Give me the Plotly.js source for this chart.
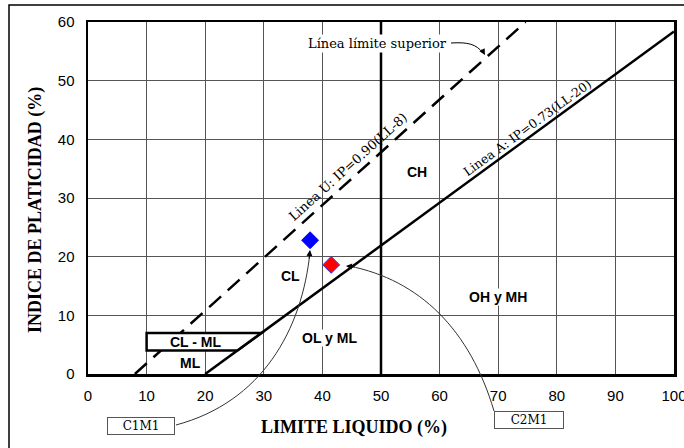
<!DOCTYPE html>
<html>
<head>
<meta charset="utf-8">
<script src="https://cdn.plot.ly/plotly-3.0.1.min.js"></script>
<style>html,body{margin:0;padding:0;background:#fff;}#chart{width:684px;height:448px;}</style>
</head>
<body>
<div id="chart"></div>
<script>
// Sample points
var sampleNames = ['C1M1', 'C2M1'];
var sampleLL = [37.9, 41.5];
var sampleIP = [22.8, 18.6];
var sampleColors = ['#0000ff', '#ff0000'];

// Reference lines of the plasticity chart
var aLineLL = [20, 100];        // Linea A: IP = 0.73(LL-20)
var aLineIP = [0, 58.4];
var uLineLL = [8, 74.67];       // Linea U: IP = 0.90(LL-8)
var uLineIP = [0, 60];
var divLL = [50, 50];           // LL = 50 divider
var divIP = [0, 60];
var clmlLL = [10, 10, 29.59, 25.48, 10];  // CL-ML band
var clmlIP = [4, 7, 7, 4, 4];

// Zone labels
var zoneNames = ['CL - ML', 'ML', 'CL', 'OL y ML', 'CH', 'OH y MH'];
var zoneLL = [18.5, 17.5, 34.6, 41.2, 56.1, 69.9];
var zoneIP = [5.5, 1.9, 16.7, 6.1, 34.4, 13.1];

var xTicks = [0, 10, 20, 30, 40, 50, 60, 70, 80, 90, 100];
var yTicks = [0, 10, 20, 30, 40, 50, 60];

var serif = 'DejaVu Serif';
var tnr = 'Liberation Serif';
var sans = 'Liberation Sans, Arial, sans-serif';

var traces = [
  {x: uLineLL, y: uLineIP, mode: 'lines', line: {color: '#000', width: 2.5, dash: '16px,9px'}, hoverinfo: 'skip'},
  {x: aLineLL, y: aLineIP, mode: 'lines', line: {color: '#000', width: 2.5}, hoverinfo: 'skip'},
  {x: divLL, y: divIP, mode: 'lines', line: {color: '#000', width: 2.5}, hoverinfo: 'skip'},
  {x: sampleLL, y: sampleIP, mode: 'markers', text: sampleNames,
   marker: {symbol: 'diamond', size: 13, color: sampleColors, line: {color: ['#0000ff', '#3333ff'], width: 1}}}
];

// paper conversion helpers for annotation callouts (pixel layout known from margins)
var L = 88, T = 22, W = 586, H = 352;
function px(v) { return (v - L) / W; }
function py(v) { return (T + H - v) / H; }

var shapes = [
  // CL-ML band (white fill, over lines)
  {type: 'path', xref: 'x', yref: 'y', layer: 'above',
   path: 'M' + clmlLL.map(function (v, i) { return v + ',' + clmlIP[i]; }).join(' L') + ' Z',
   fillcolor: '#fff', line: {color: '#000', width: 2.5}},
  // outer frame
  {type: 'rect', xref: 'paper', yref: 'paper', x0: px(9), x1: px(720), y0: py(480), y1: py(5),
   line: {color: '#000', width: 1.5}, fillcolor: 'rgba(0,0,0,0)', layer: 'below'},
  // curved callouts
  {type: 'path', xref: 'paper', yref: 'paper', layer: 'above', line: {color: '#333', width: 1},
   path: 'M' + px(176) + ',' + py(425) + ' C' + px(262) + ',' + py(402) + ' ' + px(302) + ',' + py(330) + ' ' + px(310) + ',' + py(252)},
  {type: 'path', xref: 'paper', yref: 'paper', layer: 'above', line: {color: '#333', width: 1},
   path: 'M' + px(494) + ',' + py(411) + ' C' + px(470) + ',' + py(330) + ' ' + px(420) + ',' + py(280) + ' ' + px(349) + ',' + py(266)},
  {type: 'path', xref: 'paper', yref: 'paper', layer: 'above', line: {color: '#000', width: 1},
   path: 'M' + px(451) + ',' + py(43) + ' C' + px(468) + ',' + py(42) + ' ' + px(476) + ',' + py(44) + ' ' + px(483) + ',' + py(53)}
];

var annotations = [];
zoneNames.forEach(function (n, i) {
  annotations.push({x: zoneLL[i], y: zoneIP[i], text: '<b>' + n + '</b>', showarrow: false,
    xanchor: 'center', yanchor: 'middle',
    font: {family: sans, size: 14, color: '#000'},
    bgcolor: (n === 'CL - ML' || n === 'ML') ? 'rgba(0,0,0,0)' : '#fff', borderpad: 0});
});
annotations.push(
  {xref: 'paper', yref: 'paper', x: px(377), y: py(43), xanchor: 'center', yanchor: 'middle',
   text: 'Línea límite superior', showarrow: false,
   font: {family: serif, size: 13, color: '#000'}, bgcolor: '#fff', borderpad: 1},
  {x: 44.4, y: 35.4, text: 'Linea U: IP=0.90(LL-8)', textangle: -42, showarrow: false,
   xanchor: 'center', yanchor: 'middle', font: {family: serif, size: 13, color: '#000'}},
  {x: 75.0, y: 42.0, text: 'Linea A: IP=0.73(LL-20)', textangle: -36, showarrow: false,
   xanchor: 'center', yanchor: 'middle', font: {family: serif, size: 12.5, color: '#000'}},
  // sample label boxes
  {xref: 'paper', yref: 'paper', x: px(140.5), y: py(425.5), xanchor: 'center', yanchor: 'middle',
   text: sampleNames[0], showarrow: false,
   font: {family: serif, size: 12, color: '#000'}, bgcolor: '#fff', bordercolor: '#555', borderwidth: 1, borderpad: 1, width: 64, height: 14},
  {xref: 'paper', yref: 'paper', x: px(529), y: py(419.5), xanchor: 'center', yanchor: 'middle',
   text: sampleNames[1], showarrow: false,
   font: {family: serif, size: 12, color: '#000'}, bgcolor: '#fff', bordercolor: '#555', borderwidth: 1, borderpad: 1, width: 66, height: 14},
  // arrowheads
  {xref: 'paper', yref: 'paper', x: px(310), y: py(250), ax: -1, ay: 10, text: '', showarrow: true,
   arrowhead: 2, arrowsize: 1.2, arrowwidth: 1, arrowcolor: '#000'},
  {xref: 'paper', yref: 'paper', x: px(346), y: py(266), ax: 10, ay: 1, text: '', showarrow: true,
   arrowhead: 2, arrowsize: 1.2, arrowwidth: 1, arrowcolor: '#000'},
  {xref: 'paper', yref: 'paper', x: px(485), y: py(55), ax: -4, ay: -7, text: '', showarrow: true,
   arrowhead: 2, arrowsize: 1.2, arrowwidth: 1, arrowcolor: '#000'},
  // axis titles
  {xref: 'paper', yref: 'paper', x: px(354), y: py(427), xanchor: 'center', yanchor: 'middle',
   text: '<b>LIMITE LIQUIDO (%)</b>', showarrow: false,
   font: {family: tnr, size: 18, color: '#000'}},
  {xref: 'paper', yref: 'paper', x: px(35), y: py(210), xanchor: 'center', yanchor: 'middle',
   text: '<b>INDICE DE PLATICIDAD (%)</b>', textangle: -90, showarrow: false,
   font: {family: tnr, size: 18, color: '#000'}}
);

var layout = {
  width: 684, height: 448,
  margin: {l: L, r: 684 - L - W, t: T, b: 448 - T - H},
  paper_bgcolor: '#fff', plot_bgcolor: '#fff',
  showlegend: false,
  xaxis: {range: [0, 100], tickvals: xTicks, ticktext: xTicks.map(String), ticks: '',
    showgrid: true, gridcolor: '#555', gridwidth: 1, zeroline: false,
    showline: true, linecolor: '#000', linewidth: 2.5, mirror: true, ticklabeloverflow: 'allow',
    tickfont: {family: sans, size: 15, color: '#000'}, ticklabelstandoff: 6, fixedrange: true},
  yaxis: {range: [0, 60], tickvals: yTicks, ticktext: yTicks.map(String), ticks: '',
    showgrid: true, gridcolor: '#555', gridwidth: 1, zeroline: false,
    showline: true, linecolor: '#000', linewidth: 2.5, mirror: true,
    tickfont: {family: sans, size: 15, color: '#000'}, ticklabelstandoff: 8, fixedrange: true},
  shapes: shapes,
  annotations: annotations
};

Plotly.newPlot('chart', traces, layout, {displayModeBar: false, staticPlot: true});
</script>
</body>
</html>
